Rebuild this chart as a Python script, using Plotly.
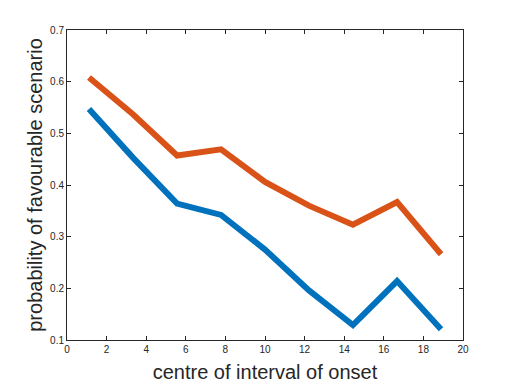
import plotly.graph_objects as go

# centres of the 9 onset intervals
centres = [1.11, 3.33, 5.56, 7.78, 10.0, 12.22, 14.44, 16.67, 18.89]
prob_upper = [0.608, 0.537, 0.457, 0.469, 0.406, 0.360, 0.323, 0.367, 0.266]
prob_lower = [0.547, 0.453, 0.364, 0.342, 0.275, 0.196, 0.129, 0.214, 0.121]

x_ticks = [0, 2, 4, 6, 8, 10, 12, 14, 16, 18, 20]
y_ticks = [0.1, 0.2, 0.3, 0.4, 0.5, 0.6, 0.7]

fig = go.Figure()

fig.add_trace(go.Scatter(x=centres, y=prob_lower, mode="lines",
                         line=dict(color="#0072BD", width=6)))
fig.add_trace(go.Scatter(x=centres, y=prob_upper, mode="lines",
                         line=dict(color="#D95319", width=6)))

axis_style = dict(
    showline=True, linecolor="#262626", linewidth=1, mirror="ticks",
    ticks="inside", ticklen=4, tickcolor="#262626",
    showgrid=False, zeroline=False, automargin=False,
    tickfont=dict(family="Liberation Sans, Arial", size=10, color="#262626"),
)

# page has an 8px body margin, so the figure is a bit smaller than the window
fig.update_layout(
    width=504, height=376,
    margin=dict(l=59, r=49, t=22, b=44),
    paper_bgcolor="white", plot_bgcolor="white",
    showlegend=False,
    xaxis=dict(range=[0, 20], tickvals=x_ticks,
               title=dict(text="centre of interval of onset", standoff=10,
                          font=dict(family="Liberation Sans, Arial", size=20, color="#262626")),
               **axis_style),
    yaxis=dict(range=[0.1, 0.7], tickvals=y_ticks, tickformat=".1f",
               title=dict(text="probability of favourable scenario", standoff=2,
                          font=dict(family="Liberation Sans, Arial", size=20, color="#262626")),
               **axis_style),
)

fig.write_html("out.html")
